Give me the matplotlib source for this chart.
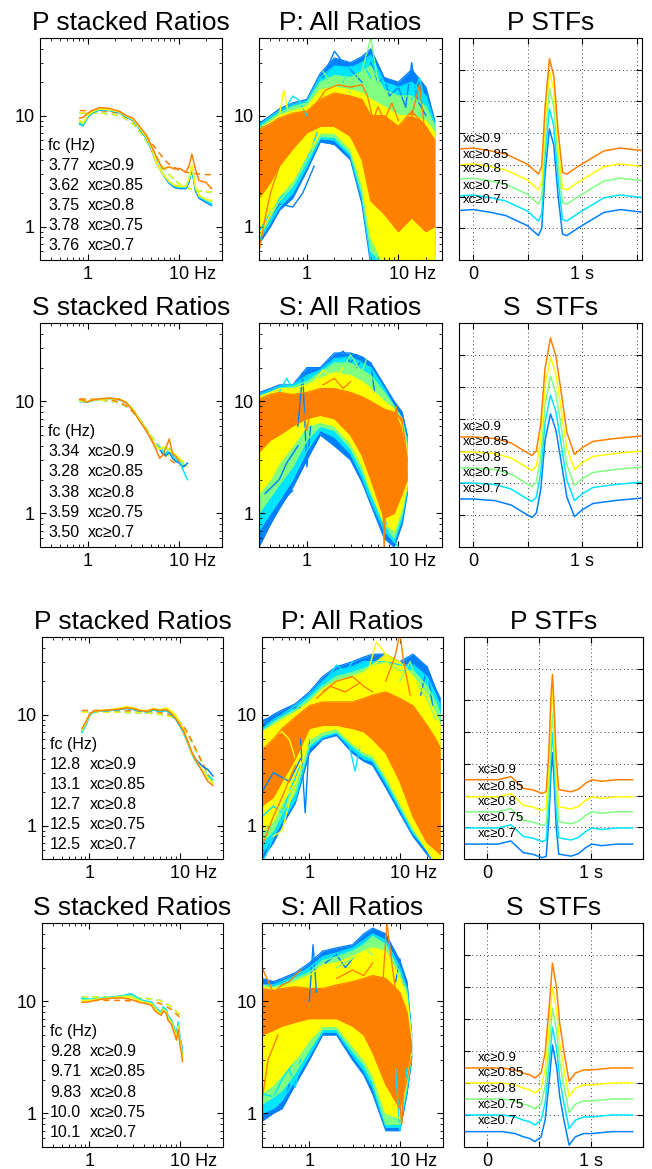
import numpy as np
import matplotlib.pyplot as plt
from matplotlib.ticker import NullFormatter, FixedLocator

plt.rcParams['font.family'] = ['Liberation Sans', 'DejaVu Sans']

# colour order: xc>=0.7, 0.75, 0.8, 0.85, 0.9
colors = ['#0080ff', '#00e5ff', '#80ff80', '#ffff00', '#ff8000']
xc_labels = ['xc≥0.7', 'xc≥0.75', 'xc≥0.8', 'xc≥0.85', 'xc≥0.9']

# ---------------- stacked ratios (column 1) ----------------
p1_f = [0.82, 0.89, 1.0, 1.15, 1.36, 1.75, 2.25, 2.66, 3.14, 3.72, 4.4, 5.0, 5.66, 6.7, 7.9, 9.0, 10.2, 12.0, 13.0, 14.0, 15.3, 16.8, 20.0, 23.0]
p1_stack = [
    [8.4, 8.1, 9.6, 10.7, 11.2, 11.1, 10.6, 9.7, 9.1, 7.6, 6.3, 5.0, 3.8, 2.95, 2.45, 2.25, 2.2, 2.2, 2.5, 3.3, 2.1, 1.8, 1.65, 1.55],
    [8.5, 8.2, 9.7, 10.8, 11.3, 11.2, 10.7, 9.8, 9.2, 7.7, 6.4, 5.1, 3.9, 3.0, 2.5, 2.3, 2.25, 2.25, 2.6, 3.4, 2.2, 1.85, 1.7, 1.6],
    [8.8, 8.4, 9.9, 10.9, 11.4, 11.3, 10.8, 9.9, 9.3, 7.8, 6.5, 5.2, 3.9, 3.0, 2.55, 2.35, 2.3, 2.3, 2.7, 3.5, 2.25, 1.9, 1.75, 1.68],
    [9.0, 8.6, 10.0, 11.0, 11.5, 11.3, 10.8, 9.9, 9.3, 7.8, 6.5, 5.2, 3.8, 2.97, 2.55, 2.35, 2.3, 2.3, 2.7, 3.6, 2.3, 1.9, 1.76, 1.72],
    [9.5, 9.6, 10.5, 11.2, 11.8, 11.6, 10.9, 10.0, 9.5, 8.0, 6.7, 5.4, 4.3, 3.3, 3.45, 3.3, 3.35, 3.1, 3.5, 4.5, 3.3, 2.6, 2.5, 2.2],
]
p1_fit_f = [0.82, 1.5, 2.0, 2.5, 3.0, 3.5, 4.0, 5.0, 6.0, 7.0, 8.0, 10.0, 12.0, 15.0, 19.0, 23.0]
p1_fit = [10.6, 10.5, 10.2, 9.6, 8.7, 7.7, 6.7, 5.1, 4.0, 3.3, 2.9, 2.45, 2.25, 2.12, 2.07, 2.05]
p1_fit_hi = [11.1, 11.0, 10.7, 10.1, 9.3, 8.3, 7.3, 5.7, 4.7, 4.0, 3.6, 3.25, 3.1, 3.0, 2.95, 2.93]
p1_fc = ['3.76', '3.78', '3.75', '3.62', '3.77']

s1_f = [0.82, 0.9, 0.97, 1.1, 1.36, 1.75, 2.25, 2.66, 3.14, 3.72, 4.4, 5.2, 5.66, 6.2, 6.7, 7.3, 7.9, 8.6, 9.4, 10.2, 11.3, 12.5]
s1_stack = [
    [10.0, 9.9, 9.8, 10.1, 10.4, 10.6, 10.3, 9.7, 8.4, 6.8, 5.5, 4.3, 4.0, 3.7, 3.4, 3.3, 3.5, 3.1, 2.9, 2.8, 2.6, 2.8],
    [10.0, 9.9, 9.8, 10.1, 10.4, 10.6, 10.4, 9.8, 8.5, 6.9, 5.6, 4.4, 4.1, 3.9, 3.6, 3.4, 3.8, 3.3, 3.0, 2.9, 2.4, 2.0],
    [10.1, 10.0, 9.8, 10.2, 10.4, 10.6, 10.4, 9.8, 8.5, 6.9, 5.6, 4.4, 4.0, 3.8, 3.8, 3.8, 3.6, 3.4, 3.2, 3.0, 2.8, np.nan],
    [10.2, 10.0, 9.9, 10.2, 10.4, 10.6, 10.4, 9.8, 8.5, 6.9, 5.6, 4.4, 4.0, 3.7, 3.9, 3.9, 3.7, 3.5, 3.3, 3.1, 2.9, np.nan],
    [10.4, 10.2, 9.8, 10.2, 10.5, 10.7, 10.4, 9.7, 8.3, 6.7, 5.5, 4.3, 3.7, 3.1, 3.3, 3.9, 4.6, 3.4, 3.2, 2.9, np.nan, np.nan],
]
s1_fit_f = [0.82, 1.5, 2.0, 2.5, 3.0, 3.5, 4.0, 5.0, 6.0, 7.0, 8.0, 10.0, 12.5]
s1_fit = [10.3, 10.2, 9.9, 9.3, 8.4, 7.4, 6.4, 4.9, 4.0, 3.5, 3.2, 2.85, 2.6]
s1_fit_hi = [10.5, 10.4, 10.1, 9.4, 8.4, 7.3, 6.3, 4.7, 3.8, 3.3, 3.0, 2.7, 2.6]
s1_fc = ['3.50', '3.59', '3.38', '3.28', '3.34']

p2_f = [0.83, 0.93, 1.02, 1.16, 1.4, 1.7, 2.1, 2.6, 3.1, 3.6, 4.3, 5.1, 6.0, 7.1, 8.1, 9.2, 10.9, 12.0, 13.4, 15.2, 18.0, 20.4, 23.2]
p2_stack = [
    [7.0, 8.4, 10.1, 10.7, 10.8, 10.9, 11.1, 11.4, 11.1, 10.8, 10.6, 11.0, 10.7, 10.9, 10.0, 8.9, 7.0, 5.8, 4.6, 3.9, 3.4, 3.2, 2.8],
    [6.9, 8.3, 10.0, 10.6, 10.8, 10.9, 11.1, 11.4, 11.1, 10.8, 10.6, 11.0, 10.7, 10.9, 10.0, 8.9, 7.0, 5.8, 4.5, 3.7, 3.1, 2.8, 2.6],
    [7.2, 8.6, 10.2, 10.7, 10.9, 11.0, 11.3, 11.6, 11.3, 10.9, 10.7, 11.2, 10.9, 11.3, 10.5, 9.3, 7.2, 5.9, 4.6, 3.8, 3.1, 2.7, 2.5],
    [7.3, 8.7, 10.3, 10.8, 10.9, 11.1, 11.4, 11.8, 11.5, 11.0, 10.8, 11.4, 11.0, 11.5, 10.8, 9.6, 7.4, 6.0, 4.6, 3.8, 3.1, 2.7, 2.4],
    [7.5, 8.8, 10.3, 10.8, 10.9, 11.0, 11.2, 11.5, 11.3, 10.9, 10.7, 11.2, 10.9, 11.1, 10.2, 9.0, 7.2, 6.0, 4.7, 3.8, 3.0, 2.5, 2.3],
]
p2_fit_f = [0.83, 2.0, 4.0, 6.0, 8.0, 9.0, 10.0, 11.0, 12.0, 13.0, 15.0, 18.0, 20.0, 23.2]
p2_fit = [10.5, 10.5, 10.4, 10.1, 9.6, 9.1, 8.4, 7.7, 6.9, 6.1, 4.8, 3.6, 3.0, 2.45]
p2_fit_hi = [10.9, 10.9, 10.8, 10.5, 9.9, 9.3, 8.6, 7.8, 7.0, 6.2, 4.9, 3.6, 3.0, 2.4]
p2_fc = ['12.5', '12.5', '12.7', '13.1', '12.8']

s2_f = [0.83, 1.0, 1.24, 1.5, 1.88, 2.3, 2.87, 3.3, 3.73, 4.3, 4.84, 5.27, 5.74, 6.26, 6.5, 7.1, 7.4, 8.1, 8.8, 9.2, 9.6, 10.0, 10.4, 10.7]
s2_stack = [
    [10.5, 10.3, 10.5, 10.7, 10.9, 11.1, 11.5, 10.9, 10.2, 9.9, 9.8, 8.9, 8.3, 7.9, 8.7, 8.3, 7.3, 6.7, 5.5, 5.0, 6.3, 4.7, 4.1, 3.4],
    [10.7, 10.4, 10.6, 10.8, 11.0, 11.2, 11.7, 11.0, 10.3, 10.0, 9.9, 9.0, 8.4, 8.0, 8.9, 8.4, 7.4, 6.8, 5.6, 5.1, 6.5, 4.8, 4.2, 3.5],
    [10.4, 10.3, 10.5, 10.7, 10.9, 11.1, 11.3, 10.7, 10.1, 9.8, 9.7, 8.8, 8.2, 7.8, 8.6, 8.2, 7.2, 6.6, 5.4, 4.9, 6.1, 4.6, 3.9, 3.2],
    [10.1, 10.1, 10.4, 10.6, 10.8, 10.9, 10.9, 10.4, 9.9, 9.7, 9.5, 8.6, 8.0, 7.7, 8.4, 8.0, 7.0, 6.4, 5.2, 4.7, 5.9, 4.4, 3.7, 3.0],
    [9.8, 9.9, 10.3, 10.5, 10.7, 10.7, 10.4, 10.0, 9.7, 9.5, 9.2, 8.3, 7.8, 7.5, 8.2, 7.8, 6.8, 6.2, 5.0, 4.5, 5.6, 4.2, 3.5, 2.9],
]
s2_fit_f = [0.83, 2.0, 4.0, 6.0, 8.0, 10.0, 10.7]
s2_fit = [10.9, 10.9, 10.7, 10.2, 9.0, 7.6, 7.1]
s2_fit_hi = [10.2, 10.2, 10.0, 9.6, 8.5, 7.2, 6.8]
s2_fc = ['10.1', '10.0', '9.83', '9.71', '9.28']

# ---------------- all ratios (column 2): envelopes per colour ----------------
p1_all_f = [0.3, 0.4, 0.5, 0.7, 1.0, 1.4, 2.0, 3.0, 4.0, 5.0, 7.0, 10.0, 14.0, 20.0, 25.0]
p1_all_lo = [
    [0.7, 1.0, 1.4, 1.8, 3.2, 5.8, 5.5, 4.0, 1.6, 0.45, 0.45, 0.45, 0.45, 0.45, 0.45],
    [0.75, 1.1, 1.5, 2.0, 3.5, 6.2, 6.0, 4.3, 1.8, 0.5, 0.45, 0.45, 0.45, 0.45, 0.45],
    [0.8, 1.2, 1.7, 2.3, 3.9, 6.5, 6.4, 4.6, 2.0, 0.6, 0.45, 0.45, 0.45, 0.45, 0.45],
    [0.8, 1.3, 1.9, 2.6, 4.4, 7.0, 7.0, 5.0, 2.4, 0.8, 0.45, 0.45, 0.45, 0.45, 0.45],
    [1.8, 2.5, 3.5, 5.0, 7.0, 8.0, 8.0, 6.5, 4.0, 1.7, 1.3, 0.9, 1.2, 0.9, 1.0],
]
p1_all_hi = [
    [8.5, 10, 11.5, 13, 14, 24, 33, 30, 34, 40, 22, 20, 26, 18, 9],
    [8.2, 9.7, 11, 12.5, 13.5, 22, 28, 27, 30, 35, 20, 18, 20, 15, 8.5],
    [7.8, 9.3, 10.5, 12, 13, 20, 23, 22, 25, 28, 17, 15, 15, 12, 8],
    [7.5, 8.8, 10, 11, 12, 17, 18, 17, 16, 14, 12, 10, 10, 9, 7],
    [7.5, 8.5, 9.5, 10.5, 11, 14, 16, 15, 14, 10, 10, 8, 11, 8, 6],
]
p1_strands = [
    (0, [1.5, 2.0, 2.5, 3.0, 4.0], [22, 38, 30, 26, 20]),
    (0, [12, 14, 16, 20], [12, 30, 14, 10]),
    (0, [0.35, 0.5, 0.7, 0.9, 1.2], [1.0, 1.6, 1.5, 2.0, 3.5]),
    (0, [5, 6, 7, 8, 10, 12], [30, 20, 22, 15, 18, 12]),
    (1, [0.6, 0.7, 0.8, 1.0], [12, 15, 14, 10]),
    (1, [0.3, 0.5, 0.7, 1.0, 1.3], [0.9, 1.8, 2.2, 4, 7]),
    (1, [2.5, 3, 3.5, 4, 5], [20, 28, 24, 30, 22]),
    (1, [14, 17, 20, 24], [14, 22, 12, 9]),
    (2, [3.0, 4.0, 5.0, 6.0, 7.0], [18, 25, 50, 20, 14]),
    (2, [1.5, 2, 2.5, 3], [25, 18, 22, 16]),
    (3, [0.5, 0.56, 0.62], [10, 17, 11]),
    (4, [1.2, 1.6, 2.2, 3.0, 4.0, 4.6, 5.5], [12, 17, 19, 18, 19, 15, 8]),
    (4, [12, 14, 17, 20, 23], [6, 10, 19, 6, 3]),
    (4, [0.3, 0.35, 0.4, 0.5], [0.6, 1.2, 2.0, 3.5]),
    (4, [5, 6, 7, 8.5, 10], [8, 12, 9, 13, 9]),
]

s1_all_f = [0.3, 0.4, 0.5, 0.7, 1.0, 1.4, 2.0, 3.0, 4.0, 5.0, 7.0, 9.0, 11.0, 12.5]
s1_all_lo = [
    [0.5, 0.8, 1.1, 1.7, 3.0, 5.0, 4.0, 3.0, 1.9, 1.2, 0.6, 0.5, 0.8, 1.5],
    [0.7, 1.0, 1.3, 2.0, 3.6, 5.5, 4.8, 3.4, 2.1, 1.3, 0.7, 0.55, 0.9, 1.6],
    [1.0, 1.4, 1.8, 2.6, 4.5, 6.0, 5.5, 3.8, 2.4, 1.5, 0.8, 0.6, 1.0, 1.7],
    [1.5, 2.0, 2.8, 4.0, 6.0, 6.5, 6.0, 4.2, 2.7, 1.6, 0.8, 0.7, 1.1, 1.8],
    [3.5, 4.5, 5.0, 6.0, 7.0, 7.5, 7.0, 5.0, 3.3, 2.0, 0.9, 1.0, 1.5, 2.0],
]
s1_all_hi = [
    [12, 13, 14, 14, 20, 20, 27, 27, 25, 22, 14, 10, 8, 5],
    [11.5, 12.5, 13.5, 14, 17, 19, 24, 25, 22, 20, 13, 9, 7, 4.5],
    [11, 12, 13, 13.5, 15, 18, 22, 22, 19, 17, 12, 9, 7, 4],
    [11, 12, 13, 13, 14, 16, 18, 17, 15, 13, 10, 8.5, 6, 3.5],
    [10.5, 11.5, 12, 11.5, 12, 13, 13, 12, 11, 10, 8.5, 8, 7, 3],
]
s1_strands = [
    (0, [0.3, 0.4, 0.5, 0.7], [0.6, 0.8, 1.2, 1.6]),
    (0, [0.8, 0.9, 1.0, 1.1], [6, 18, 2.6, 6]),
    (0, [3.5, 4.0, 5.0, 5.5], [20, 24, 22, 12]),
    (0, [0.35, 0.5, 0.6, 0.8], [1.5, 2.0, 2.8, 4]),
    (0, [2, 2.5, 3, 3.5], [25, 28, 22, 26]),
    (1, [7, 8.5, 10], [0.9, 0.6, 0.5]),
    (1, [0.5, 0.6, 0.7, 0.9], [12, 16, 13, 15]),
    (2, [2.5, 3, 4, 4.5], [20, 26, 18, 24]),
    (3, [1.2, 1.5, 2, 2.5], [15, 19, 16, 20]),
    (4, [0.9, 1.0, 1.1], [9, 5.5, 9]),
    (4, [6.5, 7.0, 7.5], [3, 0.5, 3]),
    (4, [8.5, 9.5, 10.5], [5, 9, 4]),
    (4, [1.5, 2, 2.5, 3], [14, 16, 13, 15]),
]

p2_all_f = [0.3, 0.4, 0.5, 0.7, 1.0, 1.4, 2.0, 3.0, 4.0, 5.0, 7.0, 10.0, 14.0, 20.0, 25.0, 28.0]
p2_all_lo = [
    [0.5, 0.7, 1.0, 1.6, 4.5, 6.0, 6.5, 4.5, 3.8, 3.5, 2.2, 1.3, 0.8, 0.55, 0.45, 0.45],
    [0.55, 0.8, 1.1, 1.7, 5.0, 6.2, 6.8, 4.8, 4.0, 3.8, 2.4, 1.4, 0.85, 0.6, 0.45, 0.45],
    [0.7, 0.9, 1.3, 2.0, 5.3, 6.5, 7.0, 5.2, 4.3, 4.0, 2.6, 1.5, 0.9, 0.6, 0.45, 0.45],
    [0.9, 1.1, 1.6, 2.4, 6.0, 7.0, 7.5, 5.5, 4.6, 4.3, 2.8, 1.6, 0.95, 0.6, 0.45, 0.45],
    [1.5, 1.8, 2.5, 4.0, 7.5, 8.0, 8.0, 7.5, 7.0, 6.0, 4.5, 2.5, 1.2, 0.7, 0.6, 0.55],
]
p2_all_hi = [
    [8.5, 10, 11, 12.5, 16, 22, 27, 30, 33, 35, 35, 30, 35, 27, 17, 14],
    [7.5, 9, 10, 12, 15, 20, 25, 27, 30, 30, 30, 28, 28, 22, 15, 12],
    [7, 8.5, 9.5, 11, 14, 18, 22, 24, 26, 28, 30, 25, 25, 18, 13, 10],
    [7, 8, 9, 10.5, 13, 17, 20, 22, 24, 28, 35, 30, 22, 15, 10, 8],
    [4.8, 6, 7.5, 9.5, 12, 13, 13, 13, 14, 15, 16, 14, 12, 8, 6, 5],
]
p2_strands = [
    (0, [0.3, 0.45, 0.6, 0.8], [8.8, 10, 11.5, 11.5]),
    (0, [0.8, 0.9, 1.0], [6, 1.3, 6]),
    (0, [17, 20, 23], [15, 27, 12]),
    (0, [0.3, 0.4, 0.6, 0.8], [2.0, 3.0, 2.5, 4.0]),
    (1, [2.8, 3.2, 3.6], [5, 3.1, 5]),
    (1, [0.3, 0.35, 0.45], [0.45, 0.6, 1.0]),
    (1, [1.5, 2, 2.5, 3], [20, 28, 24, 30]),
    (1, [0.3, 0.4, 0.5, 0.6, 0.8], [1.2, 1.5, 1.3, 2.0, 3.5]),
    (2, [10, 13, 16, 20, 25], [20, 30, 18, 14, 9]),
    (3, [4.5, 5.5, 7, 8], [25, 45, 35, 20]),
    (3, [0.3, 0.4, 0.5, 0.6, 0.7], [7, 6.5, 7, 6, 4]),
    (3, [0.4, 0.5, 0.6, 0.7], [0.8, 0.9, 1.6, 2.2]),
    (4, [1.4, 2.0, 3.0, 4.0, 5.0], [16, 20, 22, 18, 16]),
    (4, [7, 9, 10, 11, 13], [20, 35, 55, 30, 15]),
    (4, [0.3, 0.4, 0.5, 0.7], [0.65, 1.2, 1.8, 3.5]),
    (4, [1.2, 1.7, 2.5, 3.5], [14, 18, 16, 19]),
]

s2_all_f = [0.3, 0.4, 0.5, 0.7, 1.0, 1.4, 2.0, 3.0, 4.0, 5.0, 7.0, 10.0, 12.0, 13.5]
s2_all_lo = [
    [0.85, 1.0, 1.1, 1.8, 3.0, 5.0, 5.0, 3.0, 2.2, 1.5, 0.7, 0.7, 1.5, 3.0],
    [1.0, 1.1, 1.3, 2.0, 3.3, 5.3, 5.3, 3.3, 2.4, 1.7, 0.75, 0.75, 1.6, 3.2],
    [1.2, 1.4, 1.6, 2.3, 3.7, 5.6, 5.6, 3.6, 2.7, 1.9, 0.8, 0.8, 1.8, 3.3],
    [1.5, 1.8, 2.2, 3.0, 4.5, 6.0, 6.0, 4.0, 3.0, 2.2, 1.0, 0.9, 2.0, 3.4],
    [5.0, 5.5, 6.0, 6.5, 7.0, 7.0, 7.0, 6.0, 5.0, 3.5, 1.8, 1.1, 2.0, 3.2],
]
s2_all_hi = [
    [16, 15, 16, 18, 22, 28, 30, 32, 40, 45, 40, 23, 15, 5],
    [14, 14, 15, 17, 20, 25, 27, 30, 35, 40, 35, 20, 13, 5],
    [14, 13.5, 14, 16, 18, 23, 25, 28, 32, 38, 32, 18, 12, 4.5],
    [13.5, 13, 13.5, 15, 17, 21, 22, 25, 28, 30, 28, 16, 11, 4.5],
    [13, 12.5, 13, 13.5, 13, 13, 14, 15, 16, 17, 16, 12, 8, 4],
]
s2_strands = [
    (0, [0.3, 0.4, 0.5, 0.6], [0.85, 1.1, 1.1, 1.8]),
    (0, [1.0, 1.1, 1.2], [10, 32, 12]),
    (0, [9, 10, 11], [15, 24, 14]),
    (0, [1.5, 2, 2.5, 3], [22, 26, 20, 24]),
    (1, [0.6, 0.7, 0.8], [2.5, 1.7, 3]),
    (1, [9, 10, 11, 12], [2.5, 0.7, 1.2, 2.5]),
    (1, [0.3, 0.4, 0.5, 0.7], [1.5, 1.4, 2.0, 3.0]),
    (2, [2, 3, 4, 5], [20, 24, 30, 26]),
    (3, [0.3, 0.4, 0.5], [2.5, 3.0, 4.0]),
    (4, [0.3, 0.4, 0.5, 0.6, 0.8], [20, 12, 14, 15, 19]),
    (4, [0.3, 0.35, 0.45], [1.3, 3, 5]),
    (4, [6.5, 7.2, 8, 9], [15, 50, 25, 12]),
    (4, [9.5, 10.5, 11.5], [2, 0.8, 3]),
    (4, [2, 3, 4, 5], [16, 19, 17, 22]),
]

# ---------------- STFs (column 3) ----------------
p1_stf_t = [-0.13, 0.0, 0.15, 0.3, 0.4, 0.5, 0.55, 0.6, 0.63, 0.66, 0.70, 0.74, 0.78, 0.82, 0.86, 0.95, 1.05, 1.2, 1.35, 1.55]
p1_stf_trough = [0, 0.03, -0.05, -0.16, -0.32, -0.48, -0.64, -0.79, -0.7, -0.5, -0.45, -0.5, -0.6, -0.74, -0.79, -0.58, -0.37, -0.06, 0.03, -0.05]
p1_stf_pulse = [0, 0, 0, 0, 0, 0, 0, 0, 0.05, 0.55, 1.0, 0.85, 0.35, 0, 0, 0, 0, 0, 0, 0]
p1_stf_base = [1.56, 2.02, 2.55, 3.0, 3.5]
p1_stf_amp = [3.02, 3.19, 3.3, 3.38, 3.3]

s1_stf_t = [-0.13, 0.0, 0.2, 0.35, 0.45, 0.54, 0.58, 0.62, 0.66, 0.71, 0.76, 0.81, 0.86, 0.93, 1.0, 1.1, 1.3, 1.55]
s1_stf_trough = [0, 0, -0.05, -0.19, -0.4, -0.58, -0.5, -0.45, -0.4, -0.4, -0.45, -0.5, -0.55, -0.55, -0.34, -0.14, -0.05, 0.03]
s1_stf_pulse = [0, 0, 0, 0, 0, 0, 0.02, 0.24, 0.73, 1.0, 0.85, 0.53, 0.2, 0, 0, 0, 0, 0]
s1_stf_base = [1.5, 2.0, 2.47, 2.97, 3.44]
s1_stf_amp = [3.06, 3.15, 3.27, 3.37, 3.49]

p2_stf_t = [-0.22, 0.0, 0.11, 0.23, 0.35, 0.44, 0.53, 0.57, 0.595, 0.615, 0.63, 0.645, 0.665, 0.69, 0.75, 0.81, 0.88, 0.95, 1.01, 1.10, 1.25, 1.40]
p2_stf_trough = [0, 0, 0, 0.1, -0.27, -0.32, -0.43, -0.45, -0.42, -0.4, -0.4, -0.4, -0.4, -0.38, -0.35, -0.38, -0.3, -0.11, 0.0, -0.05, 0, 0]
p2_stf_pulse = [0, 0, 0, 0, 0, 0, 0, 0.02, 0.35, 0.8, 1.0, 0.75, 0.3, 0.02, 0, 0, 0, 0, 0, 0, 0, 0]
p2_stf_base = [0.47, 0.98, 1.49, 1.96, 2.5]
p2_stf_amp = [3.28, 3.41, 3.5, 3.74, 3.72]

s2_stf_t = [-0.22, 0.0, 0.15, 0.27, 0.35, 0.41, 0.46, 0.52, 0.56, 0.6, 0.63, 0.67, 0.7, 0.74, 0.79, 0.85, 0.93, 1.01, 1.2, 1.4]
s2_stf_trough = [0, 0, 0, -0.06, -0.16, -0.21, -0.31, -0.2, -0.2, -0.25, -0.3, -0.35, -0.4, -0.42, -0.42, -0.16, -0.06, -0.06, 0, 0]
s2_stf_pulse = [0, 0, 0, 0, 0, 0, 0, 0.01, 0.19, 0.62, 1.0, 0.79, 0.5, 0.26, 0, 0, 0, 0, 0, 0]
s2_stf_base = [0.48, 1.0, 1.5, 2.0, 2.47]
s2_stf_amp = [3.01, 3.05, 3.14, 3.3, 3.58]

W, H = 652, 1169
fig = plt.figure(figsize=(W / 100, H / 100), dpi=100)


def add_ax(l, t, r, b):
    return fig.add_axes([l / W, 1 - b / H, (r - l) / W, (b - t) / H])


def style_ratio(ax):
    ax.set_xscale('log')
    ax.set_yscale('log')
    ax.set_xlim(0.3, 30)
    ax.set_ylim(0.5, 50)
    ax.xaxis.set_major_locator(FixedLocator([1, 10]))
    ax.yaxis.set_major_locator(FixedLocator([1, 10]))
    ax.set_xticklabels(['1', ''])
    ax.set_yticklabels(['1', '10'])
    ax.xaxis.set_minor_formatter(NullFormatter())
    ax.yaxis.set_minor_formatter(NullFormatter())
    ax.tick_params(which='both', direction='in', top=True, right=True, labelsize=13, pad=4)
    ax.tick_params(which='major', length=4)
    ax.tick_params(which='minor', length=2)
    ax.annotate('10 Hz', xy=(10, 0), xycoords=('data', 'axes fraction'), xytext=(-7, -4),
                textcoords='offset points', ha='left', va='top', fontsize=13)


def draw_stack(ax, f, stack, fit_f, fit, fit_hi, fcs, title):
    for i in range(5):
        ax.plot(fit_f, fit_hi if i == 4 else fit, color=colors[i], lw=1.1, ls=(0, (4, 3)))
    for i in range(5):
        ax.plot(f, stack[i], color=colors[i], lw=1.1)
    style_ratio(ax)
    ax.text(0.045, 0.515, 'fc (Hz)', transform=ax.transAxes, va='center', fontsize=11.5)
    for k in range(5):
        i = 4 - k
        y = 0.515 - 0.09 * (k + 1)
        ax.text(0.045, y, fcs[i], transform=ax.transAxes, va='center', fontsize=11.5)
        ax.text(0.265, y, xc_labels[i], transform=ax.transAxes, va='center', fontsize=11.5)
    ax.set_title(title, fontsize=19, pad=6)


def draw_all(ax, f, lo, hi, strands, title):
    for i in range(5):
        ax.fill_between(f, lo[i], hi[i], color=colors[i], lw=0)
        ax.plot(f, lo[i], color=colors[i], lw=0.9)
        ax.plot(f, hi[i], color=colors[i], lw=0.9)
        for ci, sf, sv in strands:
            if ci == i:
                ax.plot(sf, sv, color=colors[i], lw=1.0)
    style_ratio(ax)
    ax.set_title(title, fontsize=19, pad=6)


def draw_stf(ax, t, trough, pulse, base, amp, xlim, title):
    t = np.array(t)
    for i in range(5):
        y = base[i] + np.array(trough) + amp[i] * np.array(pulse)
        ax.plot(t, y, color=colors[i], lw=1.1)
    ax.set_xlim(*xlim)
    ax.set_ylim(0, 7)
    ax.set_xticks([0, 0.5, 1, 1.5])
    ax.set_xticklabels(['0', '', '1 s', ''])
    ax.set_yticks([1, 2, 3, 4, 5, 6])
    ax.set_yticklabels([])
    ax.grid(True, ls=(0, (1, 3)), color='0.25', lw=0.7)
    ax.tick_params(direction='in', top=True, right=True, labelsize=13, pad=4, length=4)
    for i in range(5):
        ax.annotate(xc_labels[i], xy=(xlim[0], base[i] + 0.32), xytext=(3 if xlim[0] > -0.2 else 10, 0),
                    textcoords='offset points', va='center', ha='left', fontsize=9.5)
    ax.set_title(title, fontsize=19, pad=6)


rows = [(38, 260), (323, 547), (637, 859), (923, 1147)]
cols_top = [(40, 222), (259, 442), (459, 642)]
cols_bot = [(42, 223), (262, 443), (464, 643)]

panels = [
    ('P', p1_f, p1_stack, p1_fit_f, p1_fit, p1_fit_hi, p1_fc, p1_all_f, p1_all_lo, p1_all_hi, p1_strands,
     p1_stf_t, p1_stf_trough, p1_stf_pulse, p1_stf_base, p1_stf_amp, (-0.13, 1.55), 'P STFs'),
    ('S', s1_f, s1_stack, s1_fit_f, s1_fit, s1_fit_hi, s1_fc, s1_all_f, s1_all_lo, s1_all_hi, s1_strands,
     s1_stf_t, s1_stf_trough, s1_stf_pulse, s1_stf_base, s1_stf_amp, (-0.13, 1.55), 'S  STFs'),
    ('P', p2_f, p2_stack, p2_fit_f, p2_fit, p2_fit_hi, p2_fc, p2_all_f, p2_all_lo, p2_all_hi, p2_strands,
     p2_stf_t, p2_stf_trough, p2_stf_pulse, p2_stf_base, p2_stf_amp, (-0.22, 1.40), 'P STFs'),
    ('S', s2_f, s2_stack, s2_fit_f, s2_fit, s2_fit_hi, s2_fc, s2_all_f, s2_all_lo, s2_all_hi, s2_strands,
     s2_stf_t, s2_stf_trough, s2_stf_pulse, s2_stf_base, s2_stf_amp, (-0.22, 1.40), 'S  STFs'),
]

for r, p in enumerate(panels):
    top, bot = rows[r]
    cols = cols_top if r < 2 else cols_bot
    ph = p[0]
    ax1 = add_ax(cols[0][0], top, cols[0][1], bot)
    draw_stack(ax1, p[1], p[2], p[3], p[4], p[5], p[6], ph + ' stacked Ratios')
    ax2 = add_ax(cols[1][0], top, cols[1][1], bot)
    draw_all(ax2, p[7], p[8], p[9], p[10], ph + ': All Ratios')
    ax3 = add_ax(cols[2][0], top, cols[2][1], bot)
    draw_stf(ax3, p[11], p[12], p[13], p[14], p[15], p[16], p[17])

fig.savefig('out.png', dpi=100)
